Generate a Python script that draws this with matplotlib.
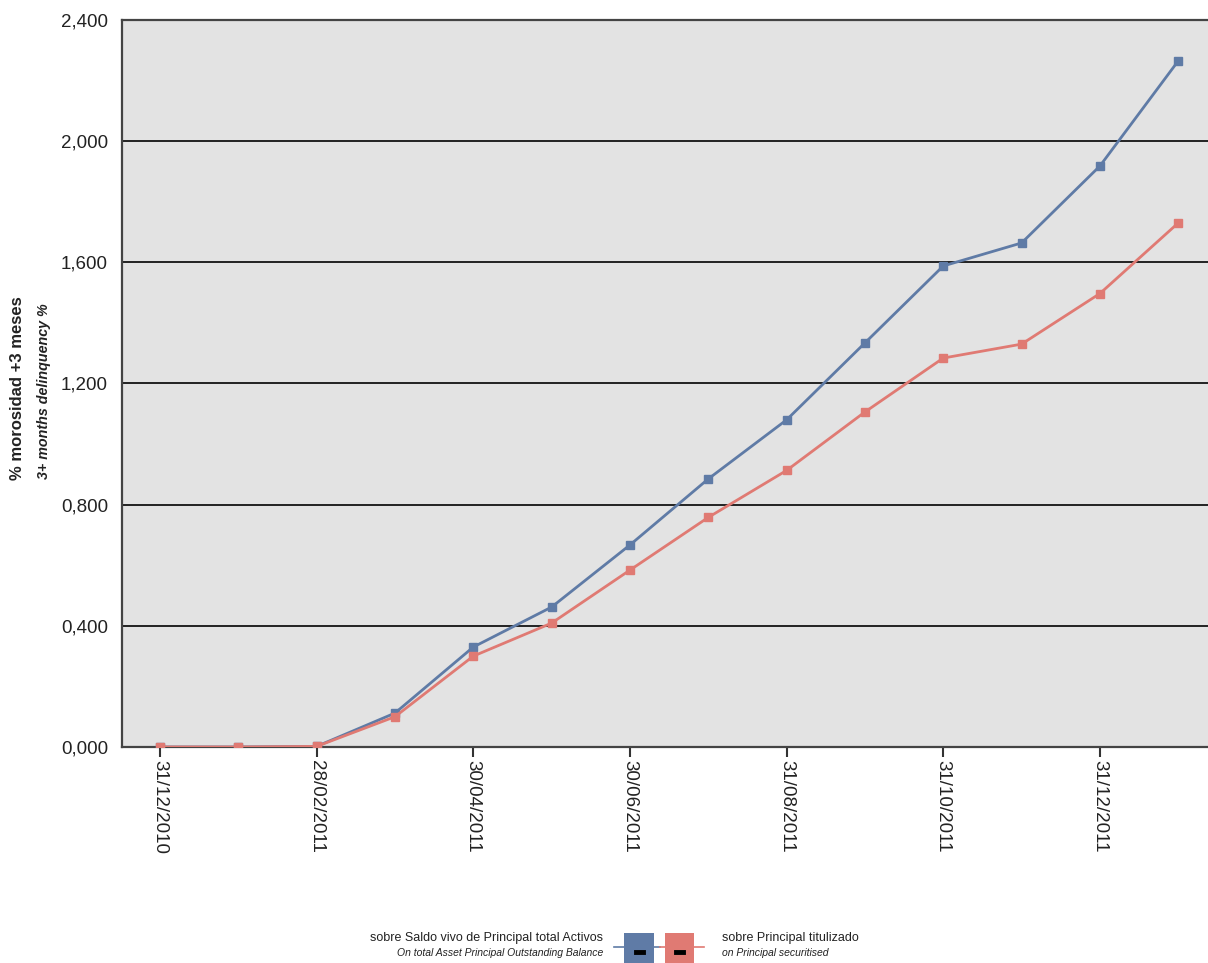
import matplotlib
matplotlib.use("Agg")
import matplotlib.pyplot as plt
from matplotlib.patches import Rectangle
from matplotlib.lines import Line2D

dates = ["31/12/2010", "31/01/2011", "28/02/2011", "31/03/2011", "30/04/2011",
         "31/05/2011", "30/06/2011", "31/07/2011", "31/08/2011", "30/09/2011",
         "31/10/2011", "30/11/2011", "31/12/2011", "31/01/2012"]
total_assets = [0.000, 0.000, 0.002, 0.112, 0.330, 0.462, 0.667, 0.885,
                1.080, 1.334, 1.588, 1.664, 1.918, 2.265]
securitised = [0.000, 0.000, 0.002, 0.100, 0.300, 0.409, 0.584, 0.758,
               0.913, 1.106, 1.284, 1.330, 1.497, 1.730]
y_ticks = [0.0, 0.4, 0.8, 1.2, 1.6, 2.0, 2.4]
y_tick_labels = ["0,000", "0,400", "0,800", "1,200", "1,600", "2,000", "2,400"]

BLUE = "#5f7ba6"
RED = "#e07a73"
BG = "#e3e3e3"

plt.rcParams['font.family'] = ['Liberation Sans', 'DejaVu Sans']

fig = plt.figure(figsize=(12.08, 9.63), dpi=100)
ax = fig.add_axes([122/1208, (963-747)/963, 1 - 122/1208, (747-20)/963])
ax.set_facecolor(BG)

x = list(range(len(dates)))
ax.plot(x, total_assets, color=BLUE, lw=2, marker='s', ms=5.5, zorder=3)
ax.plot(x, securitised, color=RED, lw=2, marker='s', ms=5.5, zorder=4)

ax.set_xlim(-0.485, 13.38)
ax.set_ylim(0, 2.4)
ax.set_yticks(y_ticks)
ax.set_yticklabels(y_tick_labels)
ax.set_xticks(x[::2])
ax.set_xticklabels(dates[::2], rotation=-90, va='top', ha='center')

ax.yaxis.grid(True, color='#222222', lw=1.4)
ax.set_axisbelow(True)
ax.tick_params(axis='y', length=0, pad=10, labelsize=13.5, labelcolor='#222222')
ax.tick_params(axis='x', length=7, width=1.5, color='#333333', pad=2,
               labelsize=13.5, labelcolor='#222222')
for s in ['left', 'top', 'bottom']:
    ax.spines[s].set_color('#444444')
    ax.spines[s].set_linewidth(1.6)
ax.spines['right'].set_visible(False)

# y label (two lines)
fig.text(18/1208, 1 - 388/963, "% morosidad +3 meses", rotation=90, ha='center',
         va='center', fontsize=12, fontweight='bold', color='#222222')
fig.text(44/1208, 1 - 391/963, "3+ months delinquency %", rotation=90, ha='center',
         va='center', fontsize=10.3, fontweight='bold', fontstyle='italic', color='#222222')

# legend
W, H = 1208, 963
def fx(px): return px / W
def fy(py): return 1 - py / H

fig.text(fx(603), fy(938), "sobre Saldo vivo de Principal total Activos", ha='right',
         va='center', fontsize=9, color='#222222')
fig.text(fx(603), fy(953), "On total Asset Principal Outstanding Balance", ha='right',
         va='center', fontsize=7.5, fontstyle='italic', color='#222222')
fig.text(fx(722), fy(938), "sobre Principal titulizado", ha='left',
         va='center', fontsize=9, color='#222222')
fig.text(fx(722), fy(953), "on Principal securitised", ha='left',
         va='center', fontsize=7.5, fontstyle='italic', color='#222222')

fig.add_artist(Line2D([fx(614), fx(660)], [fy(947), fy(947)], color=BLUE, lw=1.2))
fig.add_artist(Line2D([fx(660), fx(704)], [fy(947), fy(947)], color=RED, lw=1.2))
fig.add_artist(Rectangle((fx(624), fy(964)), fx(30), 31/H, facecolor=BLUE, edgecolor='none'))
fig.add_artist(Rectangle((fx(665), fy(964)), fx(29), 31/H, facecolor=RED, edgecolor='none'))
fig.add_artist(Line2D([fx(636), fx(643)], [fy(952), fy(952)], color='black', lw=3.5))
fig.add_artist(Line2D([fx(676), fx(683)], [fy(952), fy(952)], color='black', lw=3.5))

fig.savefig("out.png", dpi=100)
